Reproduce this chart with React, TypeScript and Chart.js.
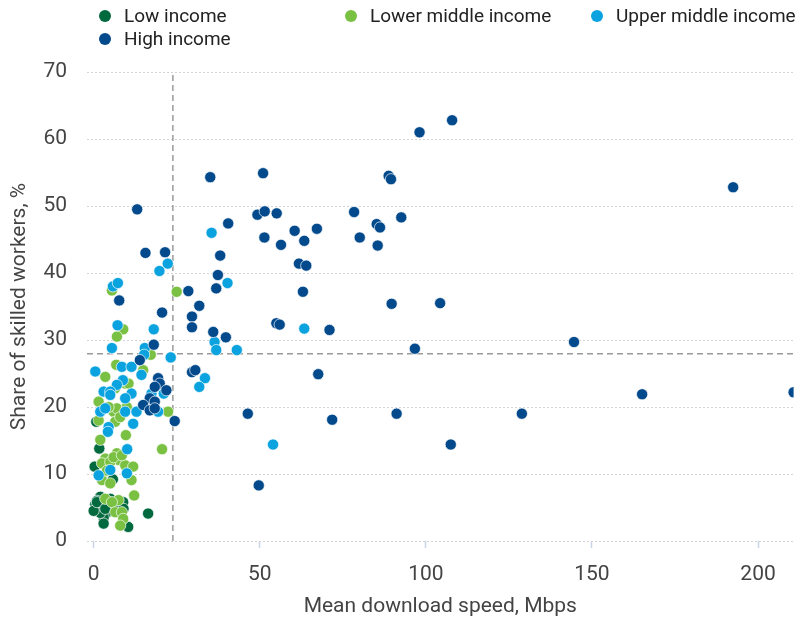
import React, { useEffect, useRef } from "react";
import { Chart, registerables } from "chart.js";

Chart.register(...registerables);

const seriesNames = ["Low income", "Lower middle income", "Upper middle income", "High income"];
const seriesColors = ["#00693e", "#7ac143", "#0ba3df", "#034a8c"];

const lowIncome: [number, number][] = [
  [0.8, 17.8], [1.7, 13.8], [0.3, 11.1], [5.8, 9.2], [2.0, 6.6], [0.5, 5.5], [1.5, 4.6],
  [2.5, 5.2], [3.5, 6.0], [4.5, 5.1], [4.0, 4.3], [5.5, 5.3], [6.5, 4.8], [8.9, 5.8],
  [3.0, 3.5], [16.4, 4.1], [3.0, 2.6], [10.4, 2.1], [2.0, 4.2], [1.0, 6.0], [7.5, 4.5],
  [0.0, 4.5], [1.0, 5.8], [3.5, 4.8], [5.0, 6.3], [7.0, 5.6], [9.0, 4.8],
];

const lowerMiddleIncome: [number, number][] = [
  [25.0, 37.2], [5.5, 37.4], [8.9, 31.6], [7.0, 30.5], [17.2, 27.8], [6.8, 26.3], [3.5, 24.5],
  [14.9, 25.5], [9.5, 23.5], [6.5, 22.8], [1.5, 20.8], [6.0, 19.3], [7.0, 19.8], [22.4, 19.3],
  [1.5, 18.0], [6.5, 17.8], [9.7, 15.8], [2.0, 15.1], [20.6, 13.7], [7.0, 13.1], [3.5, 12.3],
  [7.5, 12.1], [2.5, 11.6], [9.5, 11.3], [11.9, 11.1], [2.5, 9.1], [11.4, 9.1], [5.0, 8.6],
  [12.2, 6.8], [3.5, 6.3], [7.5, 6.1], [5.5, 5.8], [6.5, 4.3], [8.5, 4.3], [8.9, 3.3],
  [8.0, 2.3], [5.0, 11.8], [6.0, 12.5], [8.5, 12.8], [4.0, 10.5], [10.0, 20.0], [8.0, 18.5],
  [4.5, 20.0], [10.5, 23.5],
];

const upperMiddleIncome: [number, number][] = [
  [35.5, 46.0], [40.3, 38.5], [36.4, 29.7], [36.9, 28.5], [43.1, 28.5], [63.4, 31.7], [33.5, 24.3],
  [31.8, 23.0], [54.0, 14.4], [22.3, 41.4], [19.8, 40.3], [5.8, 38.0], [7.3, 38.5], [7.2, 32.2],
  [18.1, 31.6], [5.5, 28.8], [15.4, 28.8], [15.2, 27.8], [23.2, 27.4], [8.5, 26.0], [11.4, 26.0],
  [0.5, 25.3], [14.4, 24.8], [8.8, 24.0], [7.0, 23.3], [21.1, 22.0], [3.0, 22.3], [5.0, 22.3],
  [11.4, 22.0], [9.5, 21.3], [5.0, 21.8], [17.4, 22.0], [2.0, 19.3], [3.5, 19.8], [9.5, 19.3],
  [12.9, 19.3], [19.4, 19.3], [4.5, 17.0], [11.9, 17.5], [4.3, 16.3], [10.1, 13.7], [5.0, 10.6],
  [1.5, 9.8], [10.0, 10.1],
];

const highIncome: [number, number][] = [
  [35.1, 54.3], [51.0, 54.9], [98.1, 61.0], [107.9, 62.8], [88.8, 54.5], [89.5, 54.0], [49.3, 48.7],
  [51.5, 49.2], [55.1, 48.9], [40.5, 47.4], [51.4, 45.3], [56.4, 44.2], [60.5, 46.3], [63.4, 44.8],
  [67.2, 46.6], [61.8, 41.4], [64.0, 41.1], [78.4, 49.1], [80.1, 45.3], [85.2, 47.3], [86.2, 46.8],
  [85.5, 44.1], [92.6, 48.3], [38.1, 42.6], [37.4, 39.7], [36.9, 37.7], [28.5, 37.3], [63.0, 37.2],
  [31.8, 35.1], [29.6, 33.5], [29.6, 31.9], [36.0, 31.2], [39.8, 30.4], [55.0, 32.5], [56.0, 32.3],
  [71.0, 31.5], [89.7, 35.4], [104.3, 35.5], [96.7, 28.7], [29.6, 25.2], [30.6, 25.5], [67.6, 24.9],
  [46.4, 19.0], [71.8, 18.1], [91.2, 19.0], [107.5, 14.4], [49.7, 8.3], [192.5, 52.8], [144.6, 29.7],
  [128.9, 19.0], [165.1, 21.9], [210.7, 22.2], [13.1, 49.5], [15.6, 43.0], [21.5, 43.1], [7.7, 35.9],
  [20.6, 34.1], [18.1, 29.3], [13.9, 27.0], [19.4, 24.3], [19.9, 23.5], [18.4, 23.0], [21.9, 22.5],
  [16.9, 21.3], [18.4, 20.8], [14.9, 20.3], [16.9, 19.5], [18.4, 19.8], [24.4, 17.9],
];

const seriesData = [lowIncome, lowerMiddleIncome, upperMiddleIncome, highIncome];
const drawOrder = [4, 3, 2, 1];

const xTicks = [0, 50, 100, 150, 200];
const xMin = -2;
const xMax = 210.7;
const yMin = 0;
const yMax = 70;
const yStep = 10;
const meanSpeed = 23.85;
const meanShare = 27.95;

const xTitle = "Mean download speed, Mbps";
const yTitle = "Share of skilled workers, %";

const FONT = "Roboto, 'Noto Sans', sans-serif";

export default function App() {
  const canvasRef = useRef<HTMLCanvasElement | null>(null);

  useEffect(() => {
    document.body.style.margin = "0";
    const canvas = canvasRef.current;
    if (!canvas) return;

    const pointSets = seriesData.map((arr, i) => ({
      type: "scatter" as const,
      label: seriesNames[i],
      data: arr.map(([x, y]) => ({ x, y })),
      backgroundColor: seriesColors[i],
      borderColor: "rgba(255,255,255,0.85)",
      borderWidth: 0.8,
      pointRadius: 5.6,
      pointHoverRadius: 5.6,
      order: drawOrder[i],
    }));

    const refLineStyle = {
      type: "line" as const,
      borderColor: "#9a9a9a",
      borderWidth: 1.5,
      borderDash: [6, 4],
      pointRadius: 0,
      fill: false,
      order: 10,
      showLine: true,
    };

    const chart = new Chart(canvas, {
      type: "scatter",
      data: {
        datasets: [
          ...pointSets,
          {
            ...refLineStyle,
            label: "mean speed",
            data: [
              { x: meanSpeed, y: yMin },
              { x: meanSpeed, y: yMax },
            ],
          },
          {
            ...refLineStyle,
            label: "mean share",
            data: [
              { x: xMin, y: meanShare },
              { x: xMax, y: meanShare },
            ],
          },
        ] as any,
      },
      options: {
        animation: false,
        responsive: true,
        maintainAspectRatio: false,
        layout: { padding: { top: 72, left: 0, right: 0, bottom: 0 } },
        plugins: {
          legend: { display: false },
          tooltip: { enabled: false },
        },
        scales: {
          x: {
            type: "linear",
            min: xMin,
            max: xMax,
            afterBuildTicks: (scale: any) => {
              scale.ticks = xTicks.map((v) => ({ value: v }));
            },
            afterFit: (scale: any) => {
              scale.height = 78;
            },
            grid: {
              display: true,
              drawOnChartArea: false,
              drawTicks: true,
              tickLength: 7,
              tickColor: "#c9d3ea",
              tickWidth: 1.5,
            },
            border: { display: false },
            ticks: {
              padding: 14,
              color: "#444",
              font: { family: FONT, size: 21 },
              maxRotation: 0,
            },
            title: {
              display: true,
              text: xTitle,
              color: "#444",
              font: { family: FONT, size: 21 },
              padding: { top: 0, bottom: 0 },
            },
          },
          y: {
            type: "linear",
            min: yMin,
            max: yMax,
            afterFit: (scale: any) => {
              scale.width = 87;
            },
            ticks: {
              stepSize: yStep,
              padding: 20,
              color: "#444",
              font: { family: FONT, size: 21 },
            },
            grid: {
              display: true,
              drawTicks: false,
              color: "#d4d4d4",
              lineWidth: 1,
            },
            border: { display: false, dash: [2, 2] },
            title: {
              display: true,
              text: yTitle,
              color: "#444",
              font: { family: FONT, size: 21 },
              padding: { top: 7, bottom: 0 },
            },
          },
        },
      },
    });

    return () => {
      chart.destroy();
    };
  }, []);

  return (
    <div style={{ position: "fixed", left: 0, top: 0, width: 800, height: 619, background: "#fff" }}>
      <canvas ref={canvasRef} />
      <div
        style={{
          position: "absolute",
          left: 99,
          top: 4,
          display: "grid",
          gridTemplateColumns: "246px 246px 246px",
          gridAutoRows: "23px",
          fontFamily: FONT,
          fontSize: 19,
          color: "#222",
        }}
      >
        {seriesNames.map((name, i) => (
          <div key={name} style={{ display: "flex", alignItems: "center", whiteSpace: "nowrap" }}>
            <span
              style={{
                display: "inline-block",
                width: 12,
                height: 12,
                borderRadius: "50%",
                background: seriesColors[i],
                marginRight: 13,
              }}
            />
            <span>{name}</span>
          </div>
        ))}
      </div>
    </div>
  );
}
